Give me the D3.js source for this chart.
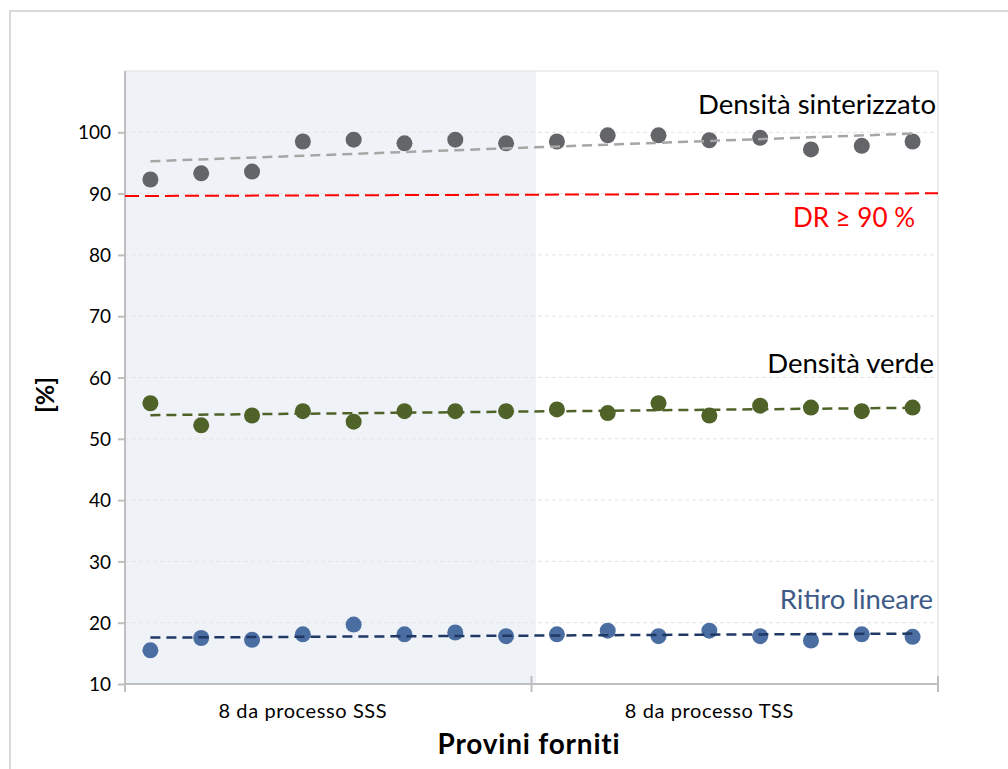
<!DOCTYPE html>
<html><head><meta charset="utf-8">
<script src="https://cdn.jsdelivr.net/npm/d3@7"></script>
<style>body{margin:0;background:#fff}svg{display:block}text{font-family:Lato,"Open Sans",sans-serif}</style>
</head><body><svg id="c" width="1008" height="769"></svg>
<script>
const samples = d3.range(16).map(i => "P" + (i + 1));
const groups = ["8 da processo SSS", "8 da processo TSS"];
const groupLabelAt = [3, 11];
const yTicks = [10, 20, 30, 40, 50, 60, 70, 80, 90, 100];
const densSinterizzato = [92.3, 93.3, 93.6, 98.5, 98.8, 98.2, 98.8, 98.2, 98.5, 99.5, 99.5, 98.7, 99.1, 97.2, 97.8, 98.5];
const densVerde = [55.8, 52.2, 53.8, 54.5, 52.8, 54.5, 54.5, 54.5, 54.8, 54.2, 55.8, 53.8, 55.4, 55.1, 54.5, 55.1];
const ritiroLineare = [15.5, 17.5, 17.2, 18.1, 19.7, 18.1, 18.4, 17.8, 18.1, 18.7, 17.8, 18.7, 17.8, 17.1, 18.1, 17.7];
const threshold = [89.6, 90.05];

const svg = d3.select("#c");
const L = 125, R = 938, T = 71, B = 684;
const x = d3.scaleBand().domain(d3.range(16)).range([L, R]).padding(0);
const cx = i => x(i) + x.bandwidth() / 2;
const y = d3.scaleLinear().domain([10, 110]).range([B, T]);

// outer frame
svg.append("path").attr("d", `M10,780 L10,11 L1020,11`).attr("fill", "none").attr("stroke", "#d9d9d9").attr("stroke-width", 2);

// shaded region for SSS group
svg.append("rect").attr("x", L).attr("y", T).attr("width", x(8) - L + 4.5).attr("height", B - T).attr("fill", "#eff3f8");

// gridlines
svg.append("g").selectAll("line").data(yTicks.filter(d => d > 10)).join("line")
  .attr("x1", L).attr("x2", R).attr("y1", d => y(d)).attr("y2", d => y(d))
  .attr("stroke", "#e3e3e3").attr("stroke-width", 1).attr("stroke-dasharray", "4,3");

// plot border (top/right)
svg.append("path").attr("d", `M${L},${T} L${R},${T} L${R},${B}`).attr("fill", "none").attr("stroke", "#dedede").attr("stroke-width", 1.2);

// y axis
const yAx = svg.append("g").attr("transform", `translate(${L},0)`)
  .call(d3.axisLeft(y).tickValues(yTicks).tickSize(7).tickPadding(7));
yAx.select(".domain").attr("stroke", "#bfbfbf").attr("stroke-width", 2).attr("d", `M0,${T}V${B + 8}`);
yAx.selectAll(".tick line").attr("stroke", "#bfbfbf").attr("stroke-width", 2);
yAx.selectAll(".tick text").attr("font-size", 19).attr("fill", "#000").attr("dy", "0.35em").style("font-family", "Lato");

// x axis
svg.append("line").attr("x1", L).attr("x2", R).attr("y1", B).attr("y2", B).attr("stroke", "#bfbfbf").attr("stroke-width", 2);
svg.append("g").selectAll("line").data([0, 8, 16]).join("line")
  .attr("x1", d => d === 16 ? R : x(d)).attr("x2", d => d === 16 ? R : x(d))
  .attr("y1", B - 8).attr("y2", B + 8).attr("stroke", "#bfbfbf").attr("stroke-width", 2);
svg.append("g").selectAll("text").data(groups).join("text")
  .attr("x", (d, i) => cx(groupLabelAt[i])).attr("y", 718).attr("text-anchor", "middle")
  .attr("font-size", 20).attr("letter-spacing", 0.6).attr("fill", "#000").text(d => d);

// threshold line
svg.append("line").attr("x1", L).attr("x2", R).attr("y1", y(threshold[0])).attr("y2", y(threshold[1]))
  .attr("stroke", "#ff0000").attr("stroke-width", 2).attr("stroke-dasharray", "14,6");

function trend(vals) {
  const n = vals.length, mx = d3.mean(d3.range(n)), my = d3.mean(vals);
  const s = d3.sum(vals, (v, i) => (i - mx) * (v - my)) / d3.sum(d3.range(n), i => (i - mx) ** 2);
  return [my - s * mx, my + s * (n - 1 - mx)];
}
const series = [
  {vals: densSinterizzato, dot: "#646569", line: "#a6a6a6", dash: "10,6"},
  {vals: densVerde, dot: "#4f6228", line: "#4f6228", dash: "10,6"},
  {vals: ritiroLineare, dot: "#4a6ea2", line: "#1f3864", dash: "10,6"}
];
series.forEach(s => {
  svg.append("g").selectAll("circle").data(s.vals).join("circle")
    .attr("cx", (d, i) => cx(i)).attr("cy", d => y(d)).attr("r", 8).attr("fill", s.dot);
  const t = trend(s.vals);
  svg.append("line").attr("x1", cx(0)).attr("x2", cx(15)).attr("y1", y(t[0])).attr("y2", y(t[1]))
    .attr("stroke", s.line).attr("stroke-width", 2.5).attr("stroke-dasharray", s.dash);
});

// series labels
const labels = [
  {t: "Densità sinterizzato", x: 936, y: 114, c: "#000", fs: 27.5},
  {t: "DR ≥ 90 %", x: 915, y: 227, c: "#ff0000", fs: 26},
  {t: "Densità verde", x: 934, y: 373, c: "#000", fs: 27.5},
  {t: "Ritiro lineare", x: 933, y: 609, c: "#3e5b87", fs: 27.5}
];
svg.append("g").selectAll("text").data(labels).join("text")
  .attr("x", d => d.x).attr("y", d => d.y).attr("text-anchor", "end")
  .attr("font-size", d => d.fs).attr("fill", d => d.c).text(d => d.t);

// axis titles
svg.append("text").attr("transform", "translate(54,395) rotate(-90)").attr("text-anchor", "middle")
  .attr("font-size", 25).attr("font-weight", "bold").attr("fill", "#000").text("[%]");
svg.append("text").attr("x", 529).attr("y", 754).attr("text-anchor", "middle")
  .attr("font-size", 28).attr("letter-spacing", 0.8).attr("font-weight", "bold").attr("fill", "#000").text("Provini forniti");
</script></body></html>
